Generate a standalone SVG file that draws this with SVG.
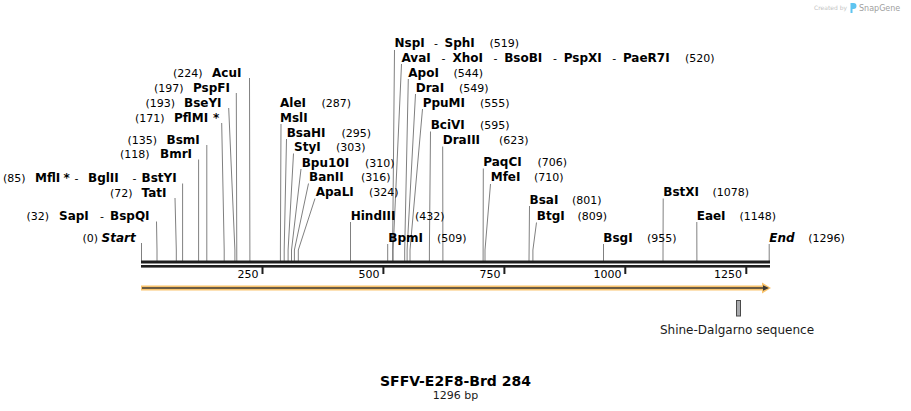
<svg xmlns="http://www.w3.org/2000/svg" width="911" height="411" viewBox="0 0 911 411">
<style>
.n{font-family:"DejaVu Sans",Verdana,sans-serif;font-weight:bold;font-size:12px;fill:#000}
.p{font-family:"DejaVu Sans",Verdana,sans-serif;font-size:11px;fill:#000}
.i{font-style:italic}
.c{fill:none;stroke:#808080;stroke-width:1}
.bb{fill:#1e1e1e}
.tk{fill:#1e1e1e}
</style>
<rect width="911" height="411" fill="#fff"/>
<g id="watermark">
<text x="814" y="10" font-family="DejaVu Sans,sans-serif" font-size="6" fill="#c4c4c4">Created by</text>
<path d="M850.5,3 h3 a3,3 0 0 1 0,6 h-1 v4 h-2 z" fill="#5ec4f0"/>
<text x="859" y="11" font-family="DejaVu Sans,sans-serif" font-size="8" fill="#a0a0a0">SnapGene</text>
</g>
<g id="connectors">
<polyline class="c" points="141.5,243 141.5,261"/>
<polyline class="c" points="156.5,221.5 157,250 157,261"/>
<polyline class="c" points="175,198 176.3,250 176.3,261"/>
<polyline class="c" points="182.6,183.5 182.6,261"/>
<polyline class="c" points="198.6,159.5 198.6,261"/>
<polyline class="c" points="206.8,145 206.8,261"/>
<polyline class="c" points="221.7,123 224.2,250 224.2,261"/>
<polyline class="c" points="228.7,108 234.9,250 234.9,261"/>
<polyline class="c" points="236.3,93 236.8,261"/>
<polyline class="c" points="249.5,78 249.9,261"/>
<polyline class="c" points="281,124 280.4,250 280.4,261"/>
<polyline class="c" points="286.5,139 284.2,250 284.2,261"/>
<polyline class="c" points="293.5,153.5 288.1,250 288.1,261"/>
<polyline class="c" points="301,169 291.5,250 291.5,261"/>
<polyline class="c" points="308.5,183.5 294.4,250 294.4,261"/>
<polyline class="c" points="315,198.5 298.3,250 298.3,261"/>
<polyline class="c" points="350.5,222 350.5,261"/>
<polyline class="c" points="387.7,244 387.7,261"/>
<polyline class="c" points="394.5,50 392.6,250 392.6,261"/>
<polyline class="c" points="401.5,64 393.1,250 393.1,261"/>
<polyline class="c" points="408.3,79 404.7,250 404.7,261"/>
<polyline class="c" points="415.5,94 407.1,250 407.1,261"/>
<polyline class="c" points="422.5,109 410,250 410,261"/>
<polyline class="c" points="430.5,131.5 429.4,250 429.4,261"/>
<polyline class="c" points="442.7,146.5 442.9,261"/>
<polyline class="c" points="483.3,168.5 483.1,261"/>
<polyline class="c" points="490.5,184 485,250 485,261"/>
<polyline class="c" points="529.5,206 529,261"/>
<polyline class="c" points="536.5,222.5 532.9,250 532.9,261"/>
<polyline class="c" points="603.5,244 603.5,261"/>
<polyline class="c" points="663.2,198.5 663,261"/>
<polyline class="c" points="696.8,222 696.9,261"/>
<polyline class="c" points="769.2,244 769.2,261"/>
</g>
<g id="backbone">
<rect class="bb" x="141" y="260.5" width="629" height="3"/>
<rect class="bb" x="141" y="265" width="629" height="2.6"/>
<rect class="tk" x="261.5" y="267" width="2" height="7"/>
<rect class="tk" x="382.4" y="267" width="2" height="7"/>
<rect class="tk" x="503.4" y="267" width="2" height="7"/>
<rect class="tk" x="624.3" y="267" width="2" height="7"/>
<rect class="tk" x="745.3" y="267" width="2" height="7"/>
<text class="p" x="258.5" y="278" text-anchor="end">250</text>
<text class="p" x="379.5" y="278" text-anchor="end">500</text>
<text class="p" x="500.5" y="278" text-anchor="end">750</text>
<text class="p" x="621.5" y="278" text-anchor="end">1000</text>
<text class="p" x="742" y="278" text-anchor="end">1250</text>
</g>
<g id="orf-arrow">
<rect x="141" y="285.5" width="623" height="5" fill="#f9c46e"/>
<polygon points="762,282.5 771,288 762,293.5" fill="#f9c46e"/>
<line x1="142" y1="288" x2="765" y2="288" stroke="#3c3a36" stroke-width="1.6"/>
<polygon points="763,285.3 769,288 763,290.7" fill="#3c3a36"/>
</g>
<g id="shine-dalgarno">
<rect x="736.5" y="300.5" width="4" height="15.5" fill="#a9aaad" stroke="#4a4a4a" stroke-width="1"/>
<text x="737" y="333.5" text-anchor="middle" font-family="DejaVu Sans,sans-serif" font-size="12" fill="#1a1a1a">Shine-Dalgarno sequence</text>
</g>
<g id="start"><text class="p" x="82.5" y="241.5">(0)</text><text class="n i" x="101.5" y="241.5">Start</text></g>
<g id="sapI"><text class="p" x="26.5" y="220">(32)</text><text class="n" x="59" y="220">SapI</text><text class="p" x="100" y="220">-</text><text class="n" x="110" y="220">BspQI</text></g>
<g id="tatI"><text class="p" x="110" y="196.5">(72)</text><text class="n" x="141.5" y="196.5">TatI</text></g>
<g id="mflI"><text class="p" x="3" y="182">(85)</text><text class="n" x="35" y="182">MflI</text><text class="n" x="63.5" y="182">*</text><text class="p" x="74.5" y="182">-</text><text class="n" x="88" y="182">BglII</text><text class="p" x="132.5" y="182">-</text><text class="n" x="141.5" y="182">BstYI</text></g>
<g id="bmrI"><text class="p" x="120" y="158.3">(118)</text><text class="n" x="160" y="158.3">BmrI</text></g>
<g id="bsmI"><text class="p" x="127.5" y="143.5">(135)</text><text class="n" x="166.5" y="143.5">BsmI</text></g>
<g id="pflMI"><text class="p" x="135" y="121.5">(171)</text><text class="n" x="174" y="121.5">PflMI</text><text class="n" x="213" y="121.5">*</text></g>
<g id="bseYI"><text class="p" x="145.5" y="106.5">(193)</text><text class="n" x="184" y="106.5">BseYI</text></g>
<g id="pspFI"><text class="p" x="154" y="91.5">(197)</text><text class="n" x="193" y="91.5">PspFI</text></g>
<g id="acuI"><text class="p" x="173" y="76.5">(224)</text><text class="n" x="212" y="76.5">AcuI</text></g>
<g id="aleI"><text class="n" x="280" y="106.5">AleI</text><text class="p" x="321.5" y="106.5">(287)</text></g>
<g id="mslI"><text class="n" x="280" y="121.5">MslI</text></g>
<g id="bsaHI"><text class="n" x="286.7" y="136.5">BsaHI</text><text class="p" x="341.5" y="136.5">(295)</text></g>
<g id="styI"><text class="n" x="294" y="151">StyI</text><text class="p" x="336" y="151">(303)</text></g>
<g id="bpu10I"><text class="n" x="301.7" y="166.5">Bpu10I</text><text class="p" x="365" y="166.5">(310)</text></g>
<g id="banII"><text class="n" x="309" y="181">BanII</text><text class="p" x="361" y="181">(316)</text></g>
<g id="apaLI"><text class="n" x="315.7" y="196">ApaLI</text><text class="p" x="369" y="196">(324)</text></g>
<g id="hindIII"><text class="n" x="350.7" y="219.5">HindIII</text><text class="p" x="415" y="219.5">(432)</text></g>
<g id="bpmI"><text class="n" x="388.3" y="241.5">BpmI</text><text class="p" x="437" y="241.5">(509)</text></g>
<g id="nspI"><text class="n" x="394.5" y="46.5">NspI</text><text class="p" x="434" y="46.5">-</text><text class="n" x="444.5" y="46.5">SphI</text><text class="p" x="489.5" y="46.5">(519)</text></g>
<g id="avaI"><text class="n" x="401.5" y="61.5">AvaI</text><text class="p" x="441.5" y="61.5">-</text><text class="n" x="452.5" y="61.5">XhoI</text><text class="p" x="493.5" y="61.5">-</text><text class="n" x="504.2" y="61.5">BsoBI</text><text class="p" x="553" y="61.5">-</text><text class="n" x="563.7" y="61.5">PspXI</text><text class="p" x="612.2" y="61.5">-</text><text class="n" x="622.9" y="61.5">PaeR7I</text><text class="p" x="685" y="61.5">(520)</text></g>
<g id="apoI"><text class="n" x="408.3" y="76.5">ApoI</text><text class="p" x="453.5" y="76.5">(544)</text></g>
<g id="draI"><text class="n" x="415.7" y="91.5">DraI</text><text class="p" x="459" y="91.5">(549)</text></g>
<g id="ppuMI"><text class="n" x="422.7" y="106.5">PpuMI</text><text class="p" x="480" y="106.5">(555)</text></g>
<g id="bciVI"><text class="n" x="430.7" y="129">BciVI</text><text class="p" x="480" y="129">(595)</text></g>
<g id="draIII"><text class="n" x="442.7" y="144">DraIII</text><text class="p" x="499" y="144">(623)</text></g>
<g id="paqCI"><text class="n" x="483.3" y="166">PaqCI</text><text class="p" x="537.5" y="166">(706)</text></g>
<g id="mfeI"><text class="n" x="490.7" y="181">MfeI</text><text class="p" x="534" y="181">(710)</text></g>
<g id="bsaI"><text class="n" x="529.5" y="203.5">BsaI</text><text class="p" x="572" y="203.5">(801)</text></g>
<g id="btgI"><text class="n" x="536.8" y="219.5">BtgI</text><text class="p" x="577.5" y="219.5">(809)</text></g>
<g id="bsgI"><text class="n" x="603.3" y="241.5">BsgI</text><text class="p" x="647" y="241.5">(955)</text></g>
<g id="bstXI"><text class="n" x="663.3" y="196">BstXI</text><text class="p" x="712.5" y="196">(1078)</text></g>
<g id="eaeI"><text class="n" x="696.7" y="219.5">EaeI</text><text class="p" x="739.5" y="219.5">(1148)</text></g>
<g id="end"><text class="n i" x="769.3" y="241.5">End</text><text class="p" x="808.3" y="241.5">(1296)</text></g>
<g id="title">
<text x="455.5" y="386" text-anchor="middle" font-family="DejaVu Sans,Verdana,sans-serif" font-weight="bold" font-size="14" fill="#000">SFFV-E2F8-Brd 284</text>
<text x="455.5" y="398.5" text-anchor="middle" font-family="DejaVu Sans,Verdana,sans-serif" font-size="11" fill="#1a1a1a">1296 bp</text>
</g>
</svg>
